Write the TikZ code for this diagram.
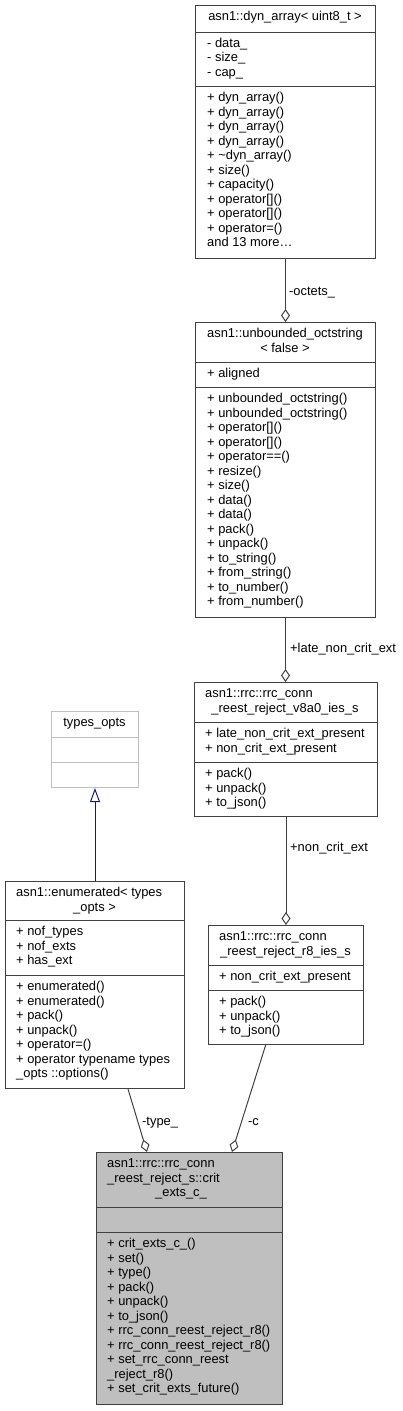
\documentclass[tikz,border=0pt]{standalone}
\usepackage{fontspec}
\setmainfont{Liberation Sans}
\usetikzlibrary{arrows.meta,calc}
\definecolor{edgegray}{HTML}{404040}
\definecolor{boxgray}{HTML}{BFBFBF}
\definecolor{inhblue}{HTML}{191970}
\tikzset{
  umlbox/.style={draw=edgegray, line width=1pt, fill=white, rectangle, inner sep=0pt, anchor=north west},
  divider/.style={draw=edgegray, line width=1pt},
  txt/.style={inner sep=0pt, font=\fontsize{12.9pt}{14.5pt}\selectfont},
  compose/.style={draw=edgegray, line width=1pt, -{Diamond[open, fill=white, length=13pt, width=9pt]}},
  inherit/.style={draw=inhblue, line width=1pt, -{Triangle[open, fill=white, length=14pt, width=10pt]}},
}
\newcommand\drawumlbox[8][]{%
  \node[umlbox,#1,minimum width=#5pt,minimum height=#6pt] (#2) at (#3,#4) {};
  \draw[divider,#1] ($(#2.north west)+(0,#7)$) -- ($(#2.north east)+(0,#7)$);
  \draw[divider,#1] ($(#2.north west)+(0,#8)$) -- ($(#2.north east)+(0,#8)$);
}
\newcommand\umllines[4]{%
  \foreach \txtline [count=\k] in {#4} {
    \node[txt, anchor=base west] (#1-\k) at (#2, {#3+(\k-1)*14.5}) {\txtline};
  }
}
\begin{document}
\begin{tikzpicture}[x=1pt,y=-1pt]
\useasboundingbox (0,0) rectangle (403,1411);

% dyn_array
\drawumlbox{dyn}{195}{5}{180}{253}{27}{81}
\node[txt, anchor=base] (dyn-t) at (285,20.5) {asn1::dyn\_array< uint8\_t >};
\umllines{dyna}{207}{47}{- data\_,- size\_,- cap\_}
\umllines{dynm}{207}{101.5}{+ dyn\_array(),+ dyn\_array(),+ dyn\_array(),+ dyn\_array(),+ \textasciitilde dyn\_array(),+ size(),+ capacity(),+ operator[](),+ operator[](),+ operator=(),and 13 more\ldots}

% unbounded_octstring
\drawumlbox{unb}{195}{322}{180}{295}{40}{65}
\node[txt, anchor=base west] (unb-t1) at (207,337.5) {asn1::unbounded\_octstring};
\node[txt, anchor=base] (unb-t2) at (285,352) {< false >};
\umllines{unba}{207}{377.5}{+ aligned}
\umllines{unbm}{207}{402.5}{+ unbounded\_octstring(),+ unbounded\_octstring(),+ operator[](),+ operator[](),+ operator==(),+ resize(),+ size(),+ data(),+ data(),+ pack(),+ unpack(),+ to\_string(),+ from\_string(),+ to\_number(),+ from\_number()}

% v8a0
\drawumlbox{v8a0}{194}{682}{183}{134}{40}{80}
\node[txt, anchor=base west] (v8a0-t1) at (205,697.5) {asn1::rrc::rrc\_conn};
\node[txt, anchor=base] (v8a0-t2) at (285,712) {\_reest\_reject\_v8a0\_ies\_s};
\umllines{v8a0a}{205}{737.5}{+ late\_non\_crit\_ext\_present,+ non\_crit\_ext\_present}
\umllines{v8a0m}{205}{777.5}{+ pack(),+ unpack(),+ to\_json()}

% types_opts
\drawumlbox[draw=boxgray]{types}{51}{711}{87}{76}{26}{51}
\node[txt, anchor=base] (types-t) at (94.5,726.5) {types\_opts};

% enumerated
\drawumlbox{enum}{5}{881}{179}{207}{39}{94}
\node[txt, anchor=base west] (enum-t1) at (16,896.5) {asn1::enumerated< types};
\node[txt, anchor=base] (enum-t2) at (94.5,911) {\_opts >};
\umllines{enuma}{16}{935.5}{+ nof\_types,+ nof\_exts,+ has\_ext}
\umllines{enumm}{16}{990.5}{+ enumerated(),+ enumerated(),+ pack(),+ unpack(),+ operator=(),+ operator typename types,\_opts ::options()}

% r8
\drawumlbox{r8}{208}{925}{155}{119}{40}{65}
\node[txt, anchor=base west] (r8-t1) at (219,940.5) {asn1::rrc::rrc\_conn};
\node[txt, anchor=base] (r8-t2) at (285.5,955) {\_reest\_reject\_r8\_ies\_s};
\umllines{r8a}{219}{980.5}{+ non\_crit\_ext\_present}
\umllines{r8m}{219}{1005.5}{+ pack(),+ unpack(),+ to\_json()}

% crit_exts_c_
\drawumlbox[fill=boxgray]{bot}{96}{1152}{186}{252}{55}{80}
\node[txt, anchor=base west] (bot-t1) at (107,1167.5) {asn1::rrc::rrc\_conn};
\node[txt, anchor=base west] (bot-t2) at (107,1182) {\_reest\_reject\_s::crit};
\node[txt, anchor=base] (bot-t3) at (181,1196.5) {\_exts\_c\_};
\umllines{botm}{107}{1247.5}{+ crit\_exts\_c\_(),+ set(),+ type(),+ pack(),+ unpack(),+ to\_json(),+ rrc\_conn\_reest\_reject\_r8(),+ rrc\_conn\_reest\_reject\_r8(),+ set\_rrc\_conn\_reest,\_reject\_r8(),+ set\_crit\_exts\_future()}

% connectors
\draw[compose] (dyn.south) -- (dyn.south |- unb.north);
\draw[compose] (unb.south) -- (unb.south |- v8a0.north);
\draw[compose] (v8a0.south) -- (v8a0.south |- r8.north);
\draw[inherit] (enum.north) -- (enum.north |- types.south);
\draw[compose] ($(enum.south west)+(123,0)$) -- ($(bot.north west)+(51,0)$);
\draw[compose] ($(r8.south west)+(57.7,0)$) -- ($(bot.north west)+(136,0)$);

% labels
\node[txt, anchor=base west] (l-octets) at (289,295) {-octets\_};
\node[txt, anchor=base west] (l-late) at (290,652) {+late\_non\_crit\_ext};
\node[txt, anchor=base west] (l-noncrit) at (290,851) {+non\_crit\_ext};
\node[txt, anchor=base west] (l-type) at (142,1125) {-type\_};
\node[txt, anchor=base west] (l-c) at (248,1125) {-c};
\end{tikzpicture}
\end{document}
